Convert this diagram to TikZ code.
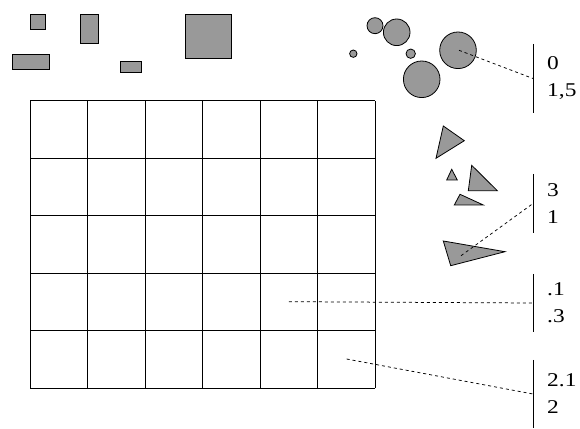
\documentclass[tikz,border=0pt]{standalone}
\usepackage{fontspec}
\setmainfont{Liberation Serif}
\newfontfamily\widefont[FakeStretch=1.2]{Liberation Serif}
\usepackage{tikz}

\definecolor{shapegray}{gray}{0.6}
\tikzset{
  piece/.style={draw=black, fill=shapegray, line width=0.8pt},
  lbl/.style={anchor=west, align=left, inner xsep=14pt, inner ysep=0pt,
    font=\widefont\fontsize{19.5}{27}\selectfont},
  link/.style={dashed, line width=0.75pt}
}

\begin{document}
\begin{tikzpicture}[x=1pt,y=1pt]
\useasboundingbox (0,0) rectangle (580,428);

% Rectangles
\draw[piece] (30,414) rectangle (45,399);
\draw[piece] (80,414) rectangle (98,385);
\draw[piece] (12,374) rectangle (49,359);
\draw[piece] (120,367) rectangle (141,356);
\draw[piece] (185,414) rectangle (231,370);

% Circles
\draw[piece] (375,402.3) circle (8);
\draw[piece] (396.7,395.7) circle (13.3);
\draw[piece] (353.3,374.3) circle (3.7);
\draw[piece] (410.7,374.3) circle (4.7);
\draw[piece] (421.7,348.7) circle (18.3);
\draw[piece] (458,377.7) circle (18.3);
\coordinate (circ) at (459,377.7);

% Triangles
\draw[piece] (443.3,302) -- (464.3,287.3) -- (436,269.7) -- cycle;
\draw[piece] (451.7,258.7) -- (457.3,248) -- (446.7,248) -- cycle;
\draw[piece] (471.7,262.7) -- (497.3,237.3) -- (468.3,237.3) -- cycle;
\draw[piece] (460,233.7) -- (483.3,223) -- (454.3,223) -- cycle;
\draw[piece] (443.3,187) -- (505,176.3) -- (450.7,162.3) -- cycle;
\coordinate (tri) at (461,172.3);

% Grid
\draw[line width=0.8pt, xshift=30.3pt, yshift=39.8pt] (0,0) grid[step=57.5pt] (345,287.5);
\coordinate (cellA) at (288.8,126.3);
\coordinate (cellB) at (346.6,69);

% Labels
\node[lbl, minimum height=69pt] (lab1) at (533,349.5) {0\\1,5};
\node[lbl, minimum height=59pt] (lab2) at (533,224.5) {3\\1};
\node[lbl, minimum height=58pt] (lab3) at (533,125) {.1\\.3};
\node[lbl, minimum height=68pt] (lab4) at (533,34) {2.1\\2};
\draw[line width=0.8pt] (lab1.north west) -- (lab1.south west);
\draw[line width=0.8pt] (lab2.north west) -- (lab2.south west);
\draw[line width=0.8pt] (lab3.north west) -- (lab3.south west);
\draw[line width=0.8pt] (lab4.north west) -- (lab4.south west);

% Dashed links
\draw[link] (circ) -- (lab1.west);
\draw[link] (tri) -- (lab2.west);
\draw[link] (cellA) -- (lab3.west);
\draw[link] (cellB) -- (lab4.west);
\end{tikzpicture}
\end{document}
